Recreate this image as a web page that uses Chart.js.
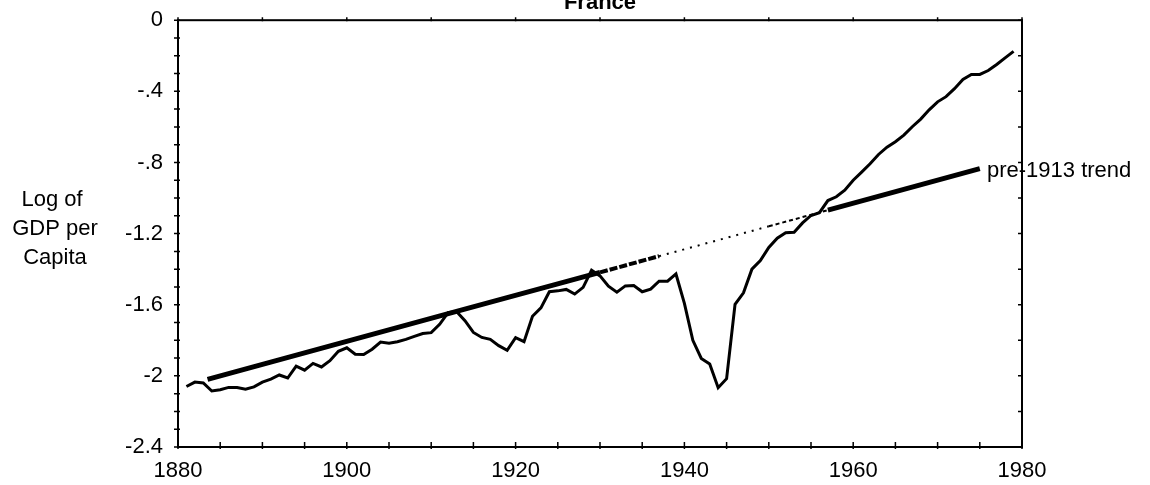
<!DOCTYPE html>
<html>
<head>
<meta charset="utf-8">
<title>France - Log of GDP per Capita</title>
<script src="https://cdn.jsdelivr.net/npm/chart.js@4.4.1/dist/chart.umd.min.js"></script>
<style>
    body { margin: 0; background: #fff; }
    #wrap { width: 1150px; height: 485px; position: relative; }
</style>
</head>
<body>
<div id="wrap"><canvas id="myChart"></canvas></div>
<script>
// Years covered by the GDP series (1881 to 1979)
const years = Array.from({ length: 99 }, (_, i) => 1881 + i);

// Log of GDP per capita
const gdpLog = [
    -2.060, -2.035, -2.040, -2.085, -2.078, -2.065, -2.065, -2.075, -2.062, -2.035,
    -2.018, -1.995, -2.012, -1.945, -1.968, -1.930, -1.950, -1.915, -1.862, -1.842,
    -1.878, -1.880, -1.850, -1.810, -1.817, -1.808, -1.795, -1.778, -1.762, -1.757,
    -1.710, -1.645, -1.638, -1.690, -1.756, -1.784, -1.795, -1.830, -1.856, -1.785,
    -1.808, -1.665, -1.618, -1.527, -1.522, -1.514, -1.540, -1.502, -1.406, -1.438,
    -1.496, -1.529, -1.494, -1.492, -1.527, -1.512, -1.468, -1.468, -1.427, -1.592,
    -1.800, -1.902, -1.933, -2.067, -2.016, -1.598, -1.533, -1.400, -1.352, -1.278,
    -1.226, -1.195, -1.192, -1.140, -1.098, -1.082, -1.014, -0.993, -0.956, -0.900,
    -0.854, -0.807, -0.755, -0.714, -0.683, -0.646, -0.599, -0.556, -0.504, -0.459,
    -0.430, -0.385, -0.333, -0.305, -0.305, -0.283, -0.249, -0.212, -0.175
];

// Points along the pre-1913 trend line
const trendYears = [1883.5, 1913, 1930, 1937, 1950, 1957, 1975];
const trendLog = [-2.020, -1.637, -1.418, -1.327, -1.159, -1.068, -0.835];

// Axis ticks and their labels
const xTickValues = [1880, 1900, 1920, 1940, 1960, 1980];
const yTickValues = [0, -0.4, -0.8, -1.2, -1.6, -2.0, -2.4];
const yTickLabels = ['0', '-.4', '-.8', '-1.2', '-1.6', '-2', '-2.4'];

const FONT = "'Liberation Sans', Arial, Helvetica, sans-serif";

// Draws the frame, the small tick marks and the free texts
const decorations = {
    id: 'decorations',
    afterDraw(chart) {
        const ctx = chart.ctx;
        const a = chart.chartArea;
        const xs = chart.scales.x;
        const ys = chart.scales.y;
        ctx.save();
        ctx.strokeStyle = '#000';
        ctx.lineWidth = 2;
        ctx.strokeRect(a.left, a.top, a.right - a.left, a.bottom - a.top);

        ctx.lineWidth = 1.5;
        ctx.beginPath();
        // left axis: every 0.1
        for (let v = 0; v >= -24; v--) {
            const y = ys.getPixelForValue(v / 10);
            ctx.moveTo(a.left - 4, y); ctx.lineTo(a.left + 2, y);
        }
        // right axis: every 0.2
        for (let v = 0; v >= -12; v--) {
            const y = ys.getPixelForValue(v / 5);
            ctx.moveTo(a.right - 4, y); ctx.lineTo(a.right + 1, y);
        }
        // bottom axis: every 5 years
        for (let yr = 1880; yr <= 1980; yr += 5) {
            const x = xs.getPixelForValue(yr);
            ctx.moveTo(x, a.bottom - 5); ctx.lineTo(x, a.bottom + 2);
        }
        // top axis: every 10 years
        for (let yr = 1880; yr <= 1980; yr += 10) {
            const x = xs.getPixelForValue(yr);
            ctx.moveTo(x, a.top - 3); ctx.lineTo(x, a.top + 1);
        }
        ctx.stroke();

        ctx.fillStyle = '#000';
        // title, mostly cut off at the top
        ctx.font = 'bold 22px ' + FONT;
        ctx.textAlign = 'center';
        ctx.textBaseline = 'alphabetic';
        ctx.fillText('France', (a.left + a.right) / 2, 9);

        // y axis title, three lines
        ctx.font = '22px ' + FONT;
        ctx.textBaseline = 'middle';
        ctx.fillText('Log of', 52, 200);
        ctx.fillText('GDP per', 55, 229);
        ctx.fillText('Capita', 55, 258);

        // trend label
        ctx.textAlign = 'left';
        ctx.fillText('pre-1913 trend', 987, ys.getPixelForValue(trendLog[trendLog.length - 1]) + 2);
        ctx.restore();
    }
};

const ctx = document.getElementById('myChart').getContext('2d');

const chart = new Chart(ctx, {
    type: 'line',
    data: {
        datasets: [
            {
                label: 'France',
                data: years.map((yr, i) => ({ x: yr, y: gdpLog[i] })),
                borderColor: '#000',
                borderWidth: 3,
                pointRadius: 0,
                tension: 0
            },
            {
                label: 'pre-1913 trend',
                data: trendYears.map((yr, i) => ({ x: yr, y: trendLog[i] })),
                borderColor: '#000',
                borderWidth: 5,
                pointRadius: 0,
                tension: 0,
                segment: {
                    // the trend fades out in the middle of the picture
                    borderWidth: c => {
                        const x0 = c.p0.parsed.x;
                        if (x0 >= 1937 && x0 < 1957) return 2;
                        if (x0 >= 1930 && x0 < 1937) return 4;
                        return 5;
                    },
                    borderDash: c => {
                        const x0 = c.p0.parsed.x;
                        if (x0 >= 1930 && x0 < 1937) return [8, 2];
                        if (x0 >= 1937 && x0 < 1950) return [2, 6];
                        if (x0 >= 1950 && x0 < 1957) return [4, 3];
                        return [];
                    }
                }
            }
        ]
    },
    options: {
        responsive: true,
        maintainAspectRatio: false,
        animation: false,
        layout: { padding: { top: 17, right: 128, left: 0, bottom: 0 } },
        plugins: {
            legend: { display: false },
            tooltip: { enabled: false }
        },
        scales: {
            x: {
                type: 'linear',
                min: 1880,
                max: 1980,
                afterBuildTicks: s => { s.ticks = xTickValues.map(v => ({ value: v })); },
                afterFit: s => { s.height = 38; },
                grid: { display: false },
                border: { display: false },
                ticks: {
                    color: '#000',
                    font: { family: FONT, size: 22 },
                    padding: 3,
                    maxRotation: 0,
                    callback: v => String(v)
                }
            },
            y: {
                min: -2.4,
                max: 0,
                afterBuildTicks: s => { s.ticks = yTickValues.map(v => ({ value: v })); },
                afterFit: s => { s.width = 178; },
                grid: { display: false },
                border: { display: false },
                ticks: {
                    color: '#000',
                    font: { family: FONT, size: 22 },
                    padding: 7,
                    callback: (v, i) => yTickLabels[yTickValues.indexOf(v)] ?? yTickLabels[i]
                }
            }
        }
    },
    plugins: [decorations]
});
</script>
</body>
</html>
